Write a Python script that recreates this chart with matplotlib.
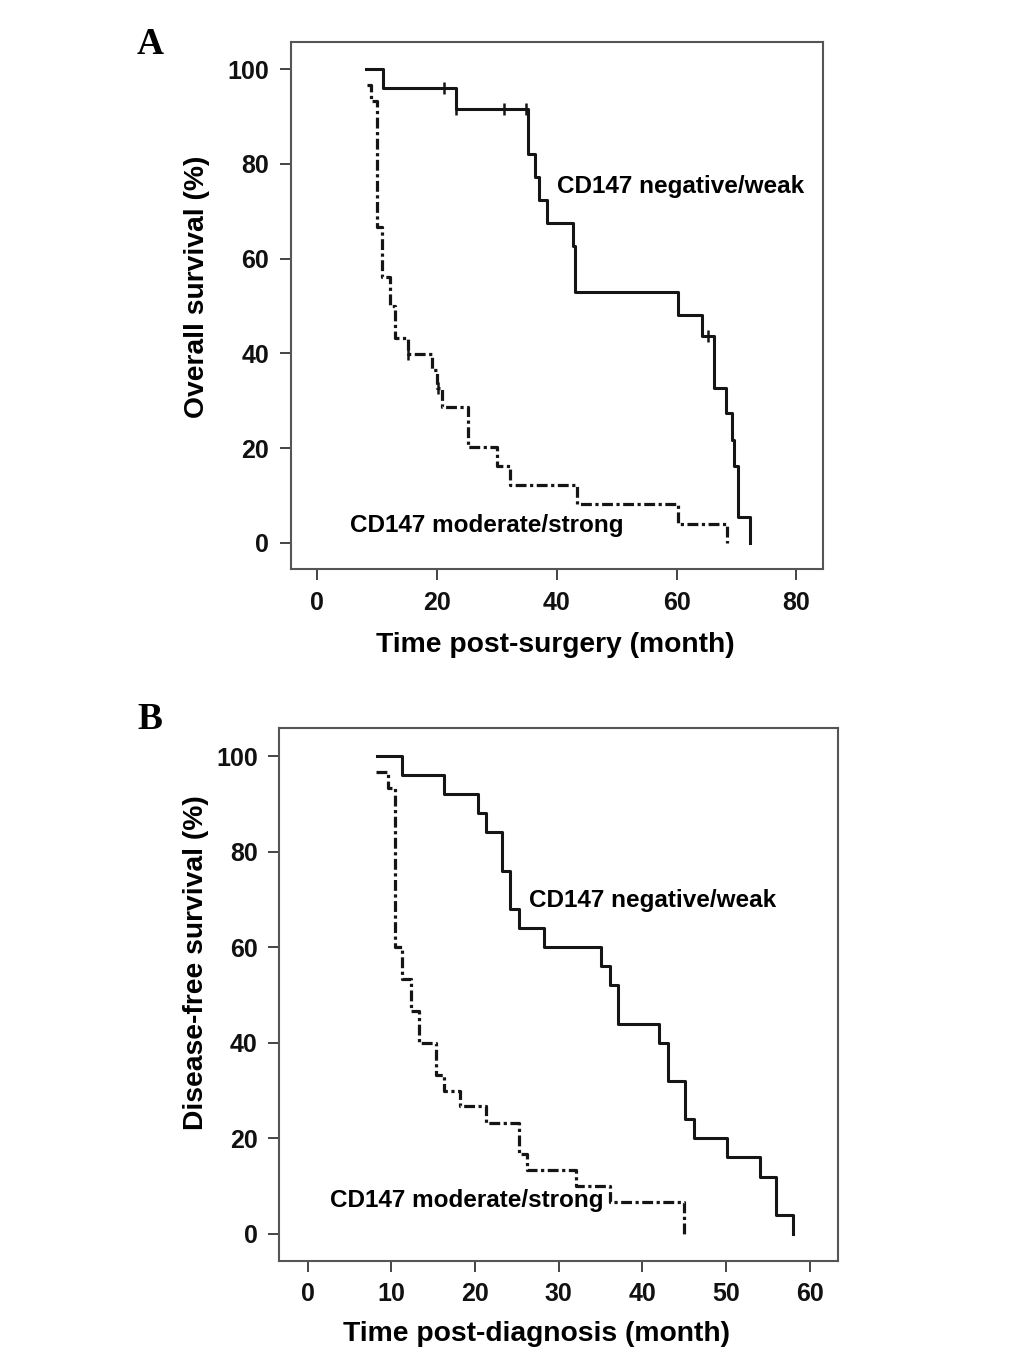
import matplotlib
matplotlib.use("Agg")
import matplotlib.pyplot as plt

plt.rcParams['font.family'] = ['Liberation Sans', 'DejaVu Sans']
plt.rcParams['font.weight'] = 'bold'

# Panel A: overall survival
os_neg_t = [8.2, 10.9, 23.1, 35.2, 36.3, 37.1, 38.4, 42.7, 43.1, 60.3, 64.3, 66.2, 68.3, 69.2, 69.6, 70.3, 72.3]
os_neg_s = [100, 96.0, 91.5, 82.1, 77.2, 72.4, 67.6, 62.6, 53.0, 48.1, 43.6, 32.6, 27.3, 21.7, 16.3, 5.4, 0]
os_neg_cens_t = [21.1, 23.1, 31.2, 34.9, 65.2]
os_neg_cens_s = [96.0, 91.5, 91.5, 91.5, 43.6]

os_pos_t = [8.3, 9.0, 10.0, 10.8, 12.2, 12.9, 15.1, 19.1, 20.0, 20.8, 25.2, 30.0, 32.1, 43.3, 60.3, 68.5]
os_pos_s = [96.6, 93.2, 66.6, 56.1, 49.9, 43.3, 39.8, 36.5, 32.6, 28.6, 20.3, 16.3, 12.3, 8.1, 4.0, 0]
os_pos_cens_t = [15.1, 20.1]
os_pos_cens_s = [39.8, 32.6]

# Panel B: disease-free survival
dfs_neg_t = [8.3, 11.3, 16.3, 20.3, 21.3, 23.2, 24.2, 25.2, 28.2, 35.1, 36.1, 37.1, 42.0, 43.1, 45.1, 46.1, 50.1, 54.0, 56.0, 58.0]
dfs_neg_s = [100, 96, 92, 88, 84, 76, 68, 64, 60, 56, 52, 44, 40, 32, 24, 20, 16, 12, 4, 0]

dfs_pos_t = [8.2, 9.6, 10.4, 11.3, 12.3, 13.3, 15.3, 16.3, 18.2, 21.3, 25.2, 26.2, 32.1, 36.1, 45.0]
dfs_pos_s = [96.7, 93.3, 60.0, 53.3, 46.7, 40.0, 33.3, 30.0, 26.7, 23.3, 16.7, 13.3, 10.0, 6.7, 0]

yticks = [0, 20, 40, 60, 80, 100]
xticks_a = [0, 20, 40, 60, 80]
xticks_b = [0, 10, 20, 30, 40, 50, 60]

W, H = 1033, 1371
fig = plt.figure(figsize=(W / 100, H / 100), dpi=100)


def px_axes(l, t, r, b):
    return fig.add_axes([l / W, 1 - b / H, (r - l) / W, (b - t) / H])


ax_a = px_axes(290.7, 41.7, 823.3, 569.3)
ax_b = px_axes(279.3, 728.3, 838.3, 1260.7)

line_col = '#151515'
dash = (0, (3.4, 1.1, 1.0, 1.1))


def style(ax, xticks, xlim):
    ax.set_xlim(*xlim)
    ax.set_ylim(-5.6, 105.8)
    ax.set_xticks(xticks)
    ax.set_yticks(yticks)
    ax.tick_params(direction='out', length=8, width=1.4, pad=7.5,
                   labelsize=18, colors='#111111')
    ax.tick_params(colors='#444444', which='both', labelcolor='#111111')
    for lab in ax.get_xticklabels() + ax.get_yticklabels():
        lab.set_fontweight('bold')
    for sp in ax.spines.values():
        sp.set_color('#555555')
        sp.set_linewidth(1.5)


# ---- A ----
ax_a.step(os_neg_t, os_neg_s, where='post', color=line_col, lw=2.2)
ax_a.step(os_pos_t, os_pos_s, where='post', color=line_col, lw=2.3, linestyle=dash)
ax_a.plot(os_neg_cens_t, os_neg_cens_s, ls='none', marker='|', ms=9, mew=1.8, color=line_col)
ax_a.plot(os_pos_cens_t, os_pos_cens_s, ls='none', marker='|', ms=9, mew=1.8, color=line_col)
style(ax_a, xticks_a, (-4.45, 84.5))
ax_a.text(40.0, 75.2, "CD147 negative/weak", fontsize=17.5, fontweight='bold', va='center', ha='left')
ax_a.text(5.4, 3.6, "CD147 moderate/strong", fontsize=17.5, fontweight='bold', va='center', ha='left')
ax_a.set_xlabel("Time post-surgery (month)", fontsize=20.3, fontweight='bold')
ax_a.set_ylabel("Overall survival (%)", fontsize=20.3, fontweight='bold')
ax_a.xaxis.set_label_coords(0.496, -0.1435)
ax_a.xaxis.label.set_va('center')
ax_a.yaxis.set_label_coords(-0.176, 0.536)
ax_a.yaxis.label.set_va('center')

# ---- B ----
ax_b.step(dfs_neg_t, dfs_neg_s, where='post', color=line_col, lw=2.2)
ax_b.step(dfs_pos_t, dfs_pos_s, where='post', color=line_col, lw=2.3, linestyle=dash)
style(ax_b, xticks_b, (-3.4, 63.4))
ax_b.text(26.4, 69.7, "CD147 negative/weak", fontsize=17.5, fontweight='bold', va='center', ha='left')
ax_b.text(2.66, 6.9, "CD147 moderate/strong", fontsize=17.5, fontweight='bold', va='center', ha='left')
ax_b.set_xlabel("Time post-diagnosis (month)", fontsize=20.3, fontweight='bold')
ax_b.set_ylabel("Disease-free survival (%)", fontsize=20.3, fontweight='bold')
ax_b.xaxis.set_label_coords(0.461, -0.1377)
ax_b.xaxis.label.set_va('center')
ax_b.yaxis.set_label_coords(-0.149, 0.560)
ax_b.yaxis.label.set_va('center')

# panel letters
fig.text(150 / W, 1 - 45 / H, "A", fontsize=27, fontweight='bold',
         family=['Liberation Serif', 'DejaVu Serif'], ha='center', va='center')
fig.text(150 / W, 1 - 720 / H, "B", fontsize=27, fontweight='bold',
         family=['Liberation Serif', 'DejaVu Serif'], ha='center', va='center')

fig.savefig("out.png", dpi=100)
